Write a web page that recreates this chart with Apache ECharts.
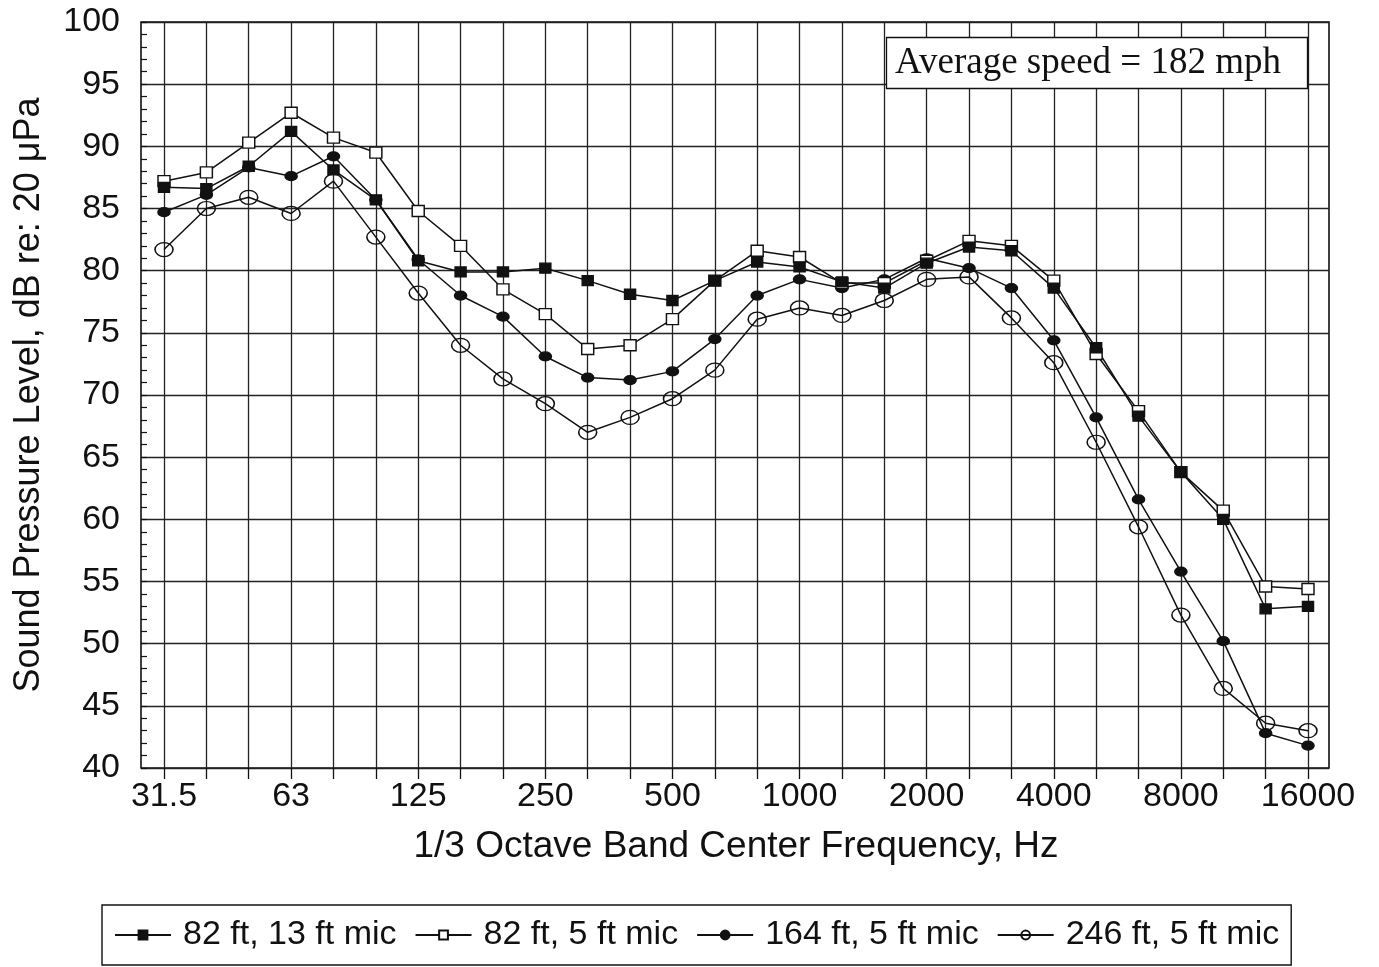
<!DOCTYPE html>
<html>
<head>
<meta charset="utf-8">
<script src="https://cdn.jsdelivr.net/npm/echarts@6/dist/echarts.min.js"></script>
<style>
  html, body { margin: 0; padding: 0; background: #fff; }
  #chart { width: 1379px; height: 967px; }
</style>
</head>
<body>
<div id="chart"></div>
<script>
// 1/3 octave band centre frequencies (Hz)
const bands = ['31.5','40','50','63','80','100','125','160','200','250','315','400','500','630',
  '800','1000','1250','1600','2000','2500','3150','4000','5000','6300','8000','10000','12500','16000'];

// Sound pressure level, dB re 20 µPa
const s82ft13 = [86.7, 86.6, 88.4, 91.2, 88.1, 85.7, 80.8, 79.9, 79.9, 80.2, 79.2, 78.1, 77.6, 79.2,
  80.7, 80.3, 79.1, 78.6, 80.6, 81.9, 81.6, 78.6, 73.8, 68.3, 63.8, 60.0, 52.8, 53.0];
const s82ft5 = [87.2, 87.9, 90.3, 92.7, 90.7, 89.5, 84.8, 82.0, 78.5, 76.5, 73.7, 74.0, 76.1, 79.2,
  81.6, 81.1, 79.0, 79.0, 80.8, 82.4, 82.0, 79.2, 73.3, 68.7, 63.8, 60.7, 54.6, 54.4];
const s164ft5 = [84.7, 86.1, 88.3, 87.6, 89.2, 85.7, 80.9, 78.0, 76.3, 73.1, 71.4, 71.2, 71.9, 74.5,
  78.0, 79.3, 78.6, 79.3, 81.0, 80.2, 78.6, 74.4, 68.2, 61.6, 55.8, 50.2, 42.8, 41.8];
const s246ft5 = [81.7, 85.0, 85.9, 84.6, 87.2, 82.7, 78.2, 74.0, 71.3, 69.3, 67.0, 68.2, 69.7, 72.0,
  76.1, 77.0, 76.4, 77.6, 79.3, 79.5, 76.2, 72.6, 66.2, 59.4, 52.3, 46.4, 43.6, 43.0];

const seriesNames = ['82 ft, 13 ft mic', '82 ft, 5 ft mic', '164 ft, 5 ft mic', '246 ft, 5 ft mic'];
const yTicks = { min: 40, max: 100, step: 5 };
const noteText = 'Average speed = 182 mph';
const xTitle = '1/3 Octave Band Center Frequency, Hz';
const yTitle = 'Sound Pressure Level, dB re: 20 μPa';

const SANS = '"Liberation Sans", Arial, Helvetica, sans-serif';
const ELLIPSE = 'path://M0,5a7,5 0 1,0 14,0a7,5 0 1,0 -14,0z';
const INK = '#111';

function mkSeries(name, data, symbol, size, fill) {
  return {
    name: name,
    type: 'line',
    xAxisIndex: 1,
    yAxisIndex: 1,
    data: data,
    symbol: symbol,
    symbolSize: size,
    symbolKeepAspect: false,
    showAllSymbol: true,
    lineStyle: { color: INK, width: 1.5 },
    itemStyle: { color: fill, borderColor: INK, borderWidth: 1.4 },
    emphasis: { disabled: true },
    animation: false
  };
}

const chart = echarts.init(document.getElementById('chart'), null, { renderer: 'canvas' });

chart.setOption({
  backgroundColor: '#ffffff',
  animation: false,
  title: {
    text: noteText,
    left: 886,
    top: 37,
    padding: [7, 27, 7, 9],
    backgroundColor: '#ffffff',
    borderColor: INK,
    borderWidth: 1.3,
    textStyle: { fontFamily: '"Liberation Serif", "Times New Roman", serif', fontSize: 37, fontWeight: 'normal', color: INK, lineHeight: 38 }
  },
  legend: {
    left: 102,
    top: 905,
    orient: 'horizontal',
    padding: [13, 12, 13, 12],
    borderColor: INK,
    borderWidth: 1.4,
    itemWidth: 56,
    itemHeight: 11,
    itemGap: 18,
    data: seriesNames,
    textStyle: { fontFamily: SANS, fontSize: 34, color: INK, padding: [0, 0, 0, 7], lineHeight: 34 }
  },
  grid: [
    { left: 141, right: 50, top: 22, bottom: 199, show: true, borderColor: INK, borderWidth: 1.6, backgroundColor: 'transparent' },
    { left: 164, right: 71, top: 22, bottom: 199 }
  ],
  xAxis: [
    { type: 'value', gridIndex: 0, show: false, min: 0, max: 1 },
    {
      type: 'category', gridIndex: 1, data: bands, boundaryGap: false,
      axisLine: { show: false },
      axisTick: { show: true, interval: 0, length: 11, lineStyle: { color: INK, width: 1.3 } },
      axisLabel: { interval: 2, fontFamily: SANS, fontSize: 34, color: INK, margin: 12 },
      splitLine: { show: true, interval: 0, lineStyle: { color: '#222', width: 1.3 } },
      name: xTitle, nameLocation: 'middle', nameGap: 60,
      nameTextStyle: { fontFamily: SANS, fontSize: 37, color: INK }
    }
  ],
  yAxis: [
    {
      type: 'value', gridIndex: 0, min: yTicks.min, max: yTicks.max, interval: yTicks.step,
      axisLine: { show: false },
      axisTick: { show: true, inside: true, length: 6, lineStyle: { color: INK, width: 1.2 } },
      minorTick: { show: true, splitNumber: 5, length: 6, lineStyle: { color: INK, width: 1.2 } },
      axisLabel: { fontFamily: SANS, fontSize: 34, color: INK, margin: 21 },
      splitLine: { show: true, lineStyle: { color: '#222', width: 1.3 } },
      name: yTitle, nameLocation: 'middle', nameGap: 94,
      nameTextStyle: { fontFamily: SANS, fontSize: 36, color: INK }
    },
    { type: 'value', gridIndex: 1, min: yTicks.min, max: yTicks.max, show: false, splitLine: { show: false } }
  ],
  series: [
    mkSeries(seriesNames[3], s246ft5, ELLIPSE, [18, 14], 'rgba(255,255,255,0)'),
    mkSeries(seriesNames[2], s164ft5, ELLIPSE, [12, 9], INK),
    mkSeries(seriesNames[1], s82ft5, 'rect', [12, 11], '#ffffff'),
    mkSeries(seriesNames[0], s82ft13, 'rect', [11, 10], INK)
  ]
});
</script>
</body>
</html>
